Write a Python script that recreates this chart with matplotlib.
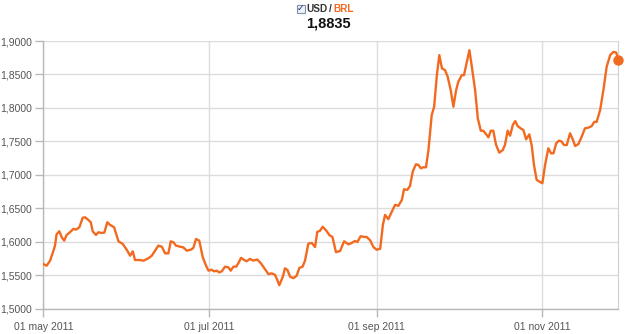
import datetime as dt
import matplotlib
matplotlib.use("Agg")
import matplotlib.pyplot as plt
import matplotlib.dates as mdates
from matplotlib.ticker import FixedLocator, FuncFormatter
from matplotlib.patches import Rectangle

plt.rcParams['font.family'] = ['Liberation Sans', 'DejaVu Sans']

# ---- data (days since 01 May 2011, USD/BRL rate) ----
start_date = dt.datetime(2011, 5, 1)
days = [0, 1.2, 2.5, 3.7, 4.3, 4.9, 5.9, 6.8, 7.7, 8.6, 9.8, 11.1, 12.1, 13.3, 14.5,
        15.4, 16.6, 17.5, 18.2, 19.4, 20.3, 21.5, 22.5, 23.6, 24.6, 26.1, 27.7, 29.3,
        30.8, 32, 33, 33.8, 35.7, 36.9, 38.7, 40, 41.2, 42.4, 43.7, 44.9, 46.1, 47,
        48, 48.9, 50.4, 51.6, 52.9, 54.4, 55.3, 56.3, 57.5, 58.8, 60,
        60.9, 62.1, 62.9, 63.9, 64.9, 65.8, 67, 68.2, 69.1, 70.1, 71.1, 71.9, 72.9,
        74, 75, 76.2, 77.4, 78.9, 80.2, 81.7, 83, 84.2, 85.4, 86.3, 87, 88.3, 89.1,
        90, 91, 92.2, 93.4, 94.4, 95.6, 96.5, 97.7, 99, 100.2, 101, 102, 103, 104.2,
        105.5, 106.6, 107.9, 109.4, 110.9, 112.5, 113.7, 114.9, 115.8, 117, 118.3,
        119.2, 120.5, 121.7, 122.9, 124.2, 125.2,
        126, 127.2, 128.5, 129.7, 130.9, 132.2, 133, 134.2, 135.2, 136.2, 137.4,
        138.3, 139.2, 140.1, 141.1, 142, 143.2, 144.1, 145.1, 146, 147, 148.1, 149.1,
        150.2, 151.2, 152.2, 153, 154.3, 155.1, 156.1, 157.1, 158, 159.2, 160.2,
        161.3, 162.2, 163.2, 164.1, 165, 165.9, 166.9,
        168.1, 169.4, 170.2, 171.2, 172.1, 173.1, 174, 174.9, 176, 177, 178, 179.2,
        180.1, 180.9, 181.9, 182.9, 184, 185, 186.2, 187.2, 188.1, 189.1, 190.1, 191,
        192, 193, 194.2, 195.2, 196.1, 197.3, 198.5, 199.7, 200.9, 202.2, 203.1, 204,
        205.3, 206.5, 207.7, 209, 210.2, 211.2, 212]
rate = [1.5665, 1.5640, 1.5715, 1.5860, 1.5940, 1.6110, 1.6155, 1.6065, 1.6015, 1.6100,
        1.6140, 1.6190, 1.6180, 1.6215, 1.6355, 1.6365, 1.6325, 1.6290, 1.6155, 1.6100,
        1.6140, 1.6130, 1.6135, 1.6290, 1.6250, 1.6215, 1.6005, 1.5965, 1.5875, 1.5790,
        1.5855, 1.5725, 1.5725, 1.5715, 1.5750, 1.5790, 1.5865, 1.5940, 1.5925, 1.5825,
        1.5825, 1.6005, 1.5990, 1.5940, 1.5925, 1.5915, 1.5865, 1.5880, 1.5905, 1.6040,
        1.6015, 1.5765, 1.5640,
        1.5566, 1.5580, 1.5556, 1.5566, 1.5540, 1.5556, 1.5626, 1.5616, 1.5566, 1.5626,
        1.5626, 1.5677, 1.5758, 1.5727, 1.5707, 1.5742, 1.5717, 1.5732, 1.5677, 1.5591,
        1.5515, 1.5525, 1.5505, 1.5424, 1.5348, 1.5475, 1.5601, 1.5576, 1.5475, 1.5454,
        1.5490, 1.5606, 1.5626, 1.5717, 1.5970, 1.5980, 1.5919, 1.6146, 1.6162, 1.6222,
        1.6172, 1.6096, 1.6070, 1.5843, 1.5859, 1.6005, 1.5960, 1.5980, 1.6010, 1.5995,
        1.6081, 1.6070, 1.6070, 1.6020, 1.5919, 1.5879, 1.5894, 1.6250,
        1.6400, 1.6336, 1.6450, 1.6550, 1.6535, 1.6624, 1.6784, 1.6774, 1.6833, 1.7047,
        1.7157, 1.7147, 1.7097, 1.7112, 1.7112, 1.7370, 1.7893, 1.8017, 1.8490, 1.8789,
        1.8590, 1.8565, 1.8465, 1.8266, 1.8017, 1.8266, 1.8390, 1.8490, 1.8490, 1.8674,
        1.8863, 1.8614, 1.8266, 1.7843, 1.7659, 1.7659, 1.7609, 1.7560, 1.7659, 1.7659,
        1.7450,
        1.7331, 1.7370, 1.7445, 1.7659, 1.7584, 1.7744, 1.7803, 1.7728, 1.7694, 1.7669,
        1.7530, 1.7604, 1.7430, 1.7147, 1.6923, 1.6898, 1.6873, 1.7147, 1.7396, 1.7321,
        1.7321, 1.7470, 1.7510, 1.7500, 1.7445, 1.7445, 1.7620, 1.7530, 1.7430, 1.7460,
        1.7570, 1.7694, 1.7704, 1.7728, 1.7790, 1.7790, 1.7968, 1.8266, 1.8614, 1.8789,
        1.8838, 1.8828, 1.8723]

x_tick_dates = [dt.datetime(2011, 5, 1), dt.datetime(2011, 7, 1),
                dt.datetime(2011, 9, 1), dt.datetime(2011, 11, 1)]
x_tick_labels = ["01 may 2011", "01 jul 2011", "01 sep 2011", "01 nov 2011"]
y_ticks = [1.50, 1.55, 1.60, 1.65, 1.70, 1.75, 1.80, 1.85, 1.90]
pair_base, pair_quote = "USD", "BRL"
headline_value = "1,8835"

# ---- plot ----
orange = "#f26a1f"
W, H = 625.0, 334.0
base_num = mdates.date2num(start_date)
xs = [base_num + d for d in days]

fig = plt.figure(figsize=(6.25, 3.34), dpi=100)
ax = fig.add_axes([0.0693, 0.0763, 0.92, 0.8009])

ax.plot(xs, rate, color=orange, lw=1.7, solid_joinstyle='round', zorder=3)
ax.plot([xs[-1]], [rate[-1]], 'o', color=orange, ms=6.5, zorder=4, clip_on=False)

ax.set_xlim(base_num, base_num + 212)
ax.set_ylim(1.5, 1.9)
ax.xaxis.set_major_locator(FixedLocator([mdates.date2num(d) for d in x_tick_dates]))
ax.set_xticklabels(x_tick_labels)
ax.yaxis.set_major_locator(FixedLocator(y_ticks))
ax.yaxis.set_major_formatter(FuncFormatter(lambda v, p: f"{v:.4f}".replace('.', ',')))

ax.grid(True, color="#dcdcdc", lw=1.0, zorder=0)
ax.tick_params(axis='both', colors="#b8b8b8", labelcolor="#555555", labelsize=7.5,
               length=6, width=1.0, pad=2)
ax.tick_params(axis='x', pad=4)
for s in ['left', 'bottom']:
    ax.spines[s].set_color("#b8b8b8")
    ax.spines[s].set_linewidth(1.0)
ax.spines['right'].set_color("#d0d0d0")
ax.spines['top'].set_visible(False)

# header
hy = 1 - 8.7 / H
fig.patches.append(Rectangle((297 / W, 1 - 12.5 / H), 7.5 / W, 7.5 / H,
                             transform=fig.transFigure,
                             facecolor='#eef2f8', edgecolor='#8090a8', lw=0.8))
fig.text(300.8 / W, hy, "\u2713", ha='center', va='center', fontsize=6.5,
         color='#1a3a7a', family=['DejaVu Sans'])
fig.text(306 / W, hy, pair_base, ha='left', va='center', fontsize=7.2,
         fontweight='bold', color='#333333')
fig.text(329 / W, hy, "/", ha='left', va='center', fontsize=7.2,
         fontweight='bold', color='#333333')
fig.text(333 / W, hy, pair_quote, ha='left', va='center', fontsize=7.2,
         fontweight='bold', color=orange)
fig.text(306 / W, 1 - 23.3 / H, headline_value, ha='left', va='center', fontsize=10.5,
         fontweight='bold', color='#111111')

fig.savefig("out.png", dpi=100)
